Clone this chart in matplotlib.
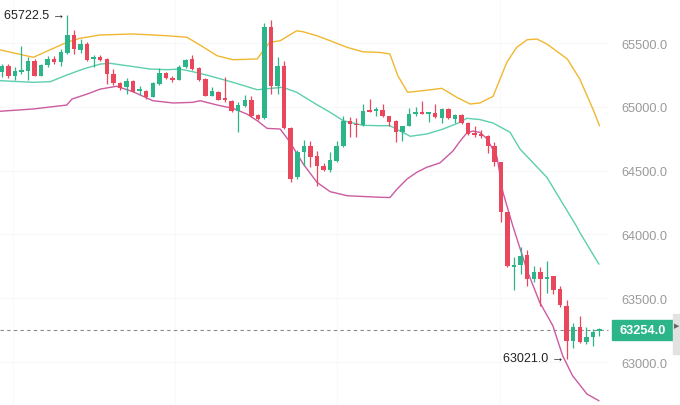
import numpy as np
import matplotlib
matplotlib.use("Agg")
import matplotlib.pyplot as plt
from matplotlib.patches import Rectangle

plt.rcParams['font.family'] = ['Liberation Sans', 'DejaVu Sans']

# candles (oldest -> newest)
opens = [65275, 65322, 65244, 65275, 65283, 65361, 65244, 65328, 65375, 65349,
         65419, 65563, 65445, 65492, 65375, 65388, 65375, 65257, 65187, 65153,
         65205, 65124, 65121, 65079, 65179, 65265, 65228, 65212, 65310, 65375,
         65302, 65218, 65087, 65118, 65067, 65048, 64969, 65009, 65056, 64936,
         64910, 65623, 65165, 65322, 64831, 64447, 64648, 64690, 64612, 64538,
         64505, 64578, 64690, 64886, 64865, 64855, 64977, 64969, 64977, 64926,
         64886, 64805, 64847, 64944, 64962, 64944, 64951, 64910, 64983, 64904,
         64936, 64873, 64795, 64787, 64774, 64695, 64565, 64173, 63747, 63760,
         63839, 63650, 63708, 63650, 63672, 63572, 63441, 63167, 63272, 63159,
         63194, 63245]
highs = [65335, 65335, 65312, 65479, 65390, 65375, 65335, 65396, 65396, 65453,
         65722.5, 65602, 65531, 65505, 65406, 65406, 65382, 65296, 65192, 65226,
         65210, 65163, 65131, 65197, 65302, 65275, 65244, 65328, 65375, 65406,
         65310, 65223, 65153, 65124, 65234, 65056, 65038, 65092, 65087, 64944,
         65657, 65683, 65390, 65361, 64844, 64665, 64740, 64734, 64656, 64560,
         64648, 64734, 64930, 64918, 64910, 65022, 65059, 64996, 65022, 64930,
         64899, 64852, 64988, 64996, 65048, 64957, 65022, 64988, 64988, 64944,
         64944, 64878, 64852, 64821, 64779, 64726, 64567, 64175, 63821, 63899,
         63880, 63750, 63742, 63789, 63676, 63593, 63488, 63306, 63358, 63272,
         63259, 63264]
lows = [65234, 65226, 65210, 65257, 65210, 65238, 65238, 65310, 65335, 65322,
        65415, 65414, 65422, 65361, 65312, 65361, 65179, 65171, 65134, 65100,
        65113, 65092, 65061, 65074, 65171, 65218, 65197, 65210, 65302, 65291,
        65205, 65082, 65082, 65051, 65040, 64962, 64805, 64998, 64918, 64899,
        64904, 65100, 65100, 64826, 64413, 64434, 64538, 64526, 64382, 64495,
        64487, 64567, 64682, 64761, 64761, 64847, 64962, 64928, 64918, 64852,
        64722, 64734, 64847, 64930, 64944, 64883, 64912, 64871, 64904, 64871,
        64865, 64779, 64761, 64753, 64638, 64534, 64097, 63747, 63567, 63690,
        63593, 63625, 63441, 63541, 63533, 63431, 63021, 63110, 63149, 63141,
        63123, 63201]
closes = [65322, 65244, 65283, 65291, 65361, 65244, 65328, 65375, 65349, 65427,
          65563, 65453, 65492, 65367, 65388, 65369, 65257, 65184, 65145, 65205,
          65118, 65134, 65079, 65187, 65265, 65223, 65212, 65310, 65367, 65296,
          65212, 65087, 65126, 65056, 65051, 64969, 65014, 65056, 64930, 64904,
          65623, 65165, 65322, 64831, 64434, 64648, 64692, 64609, 64534, 64507,
          64585, 64690, 64891, 64865, 64857, 64969, 64963, 64983, 64926, 64883,
          64805, 64847, 64944, 64962, 64944, 64954, 64918, 64983, 64910, 64936,
          64873, 64787, 64779, 64774, 64690, 64565, 64173, 63750, 63760, 63833,
          63650, 63708, 63650, 63669, 63567, 63447, 63167, 63272, 63159, 63194,
          63233, 63254]

# Bollinger bands (candle index, price)
upper_idx = [-0.3, 4.8, 9.9, 11.9, 15, 20, 25.2, 28.2, 30.2, 32.8, 35.2, 38.9, 39.8,
             40.8, 42.4, 44.9, 45.9, 48, 50, 52.6, 55, 57.6, 59.1, 60.3, 61.8, 64.1,
             67, 69.3, 71.3, 72.8, 74.8, 76.9, 78.4, 80, 81.5, 83, 86.1, 88, 90, 91]
upper = [65447, 65388, 65505, 65537, 65563, 65571, 65557, 65545, 65484, 65400, 65369,
         65375, 65440, 65505, 65518, 65596, 65588, 65557, 65518, 65466, 65431, 65426,
         65414, 65244, 65114, 65126, 65145, 65074, 65022, 65030, 65082, 65349, 65466,
         65526, 65531, 65492, 65375, 65218, 64983, 64852]
mid_idx = [-0.3, 4.8, 7.4, 9.9, 12.4, 15, 16.5, 19.1, 22.6, 25.2, 27.1, 29.1, 31.2,
           35.2, 38.9, 39.8, 42.8, 44.9, 48, 50, 52, 55, 57.6, 59.1, 62.2, 64.7, 67.2,
           69.8, 70.8, 72.8, 74.8, 75.9, 77.4, 78.9, 83, 85, 87.6, 88, 90.9]
mid = [65205, 65192, 65197, 65249, 65296, 65335, 65341, 65322, 65296, 65291, 65296,
       65275, 65249, 65192, 65134, 65139, 65153, 65114, 65016, 64957, 64891, 64855,
       64852, 64852, 64769, 64787, 64826, 64879, 64910, 64900, 64873, 64842, 64800,
       64669, 64447, 64277, 64056, 64016, 63768]
lower_idx = [-0.3, 4.8, 9.9, 10.7, 13, 15, 17.5, 20, 23, 26.1, 29.1, 30.2, 32.8, 35.2,
             37.3, 38.9, 40.4, 42.4, 43.9, 45.9, 48, 50, 52.6, 57.6, 59.1, 60.2, 61.7,
             63.2, 64.7, 66.7, 68.7, 69.8, 70.8, 71.7, 72.8, 73.9, 75.4, 76.3, 77.8,
             80, 81.9, 83.9, 85.4, 86.9, 89.1, 90.9]
lower = [64965, 64983, 65014, 65061, 65100, 65139, 65161, 65118, 65048, 65030, 65035,
         65048, 65014, 64988, 64944, 64891, 64831, 64826, 64722, 64552, 64408, 64335,
         64303, 64291, 64289, 64356, 64434, 64487, 64526, 64560, 64654, 64732, 64795,
         64810, 64800, 64748, 64607, 64332, 64068, 63716, 63468, 63285, 63049, 62893,
         62749, 62697]

price_ticks = [63000, 63500, 64000, 64500, 65000, 65500]
last_price = 63254.0

UP, DOWN = "#2cb588", "#e8475c"

fig = plt.figure(figsize=(6.8, 4.06), dpi=100)
ax = fig.add_axes([0, 0, 608 / 680, 1])
ax.set_xlim(-0.26, 92.3)
ax.set_ylim(62663, 65845)
for s in ax.spines.values():
    s.set_visible(False)

# faint grid (barely visible in the original)
for p in price_ticks:
    ax.axhline(p, color="#f8f8f8", lw=0.8, zorder=0)
for gx in [1.7, 26.4, 51.1, 75.8]:
    ax.axvline(gx, color="#f9f9f9", lw=0.8, zorder=0)

o = np.array(opens, float)
h = np.array(highs, float)
l = np.array(lows, float)
c = np.array(closes, float)
x = np.arange(len(o))
col = np.where(c >= o, UP, DOWN)

ax.vlines(x, l, h, colors=col, lw=0.9, zorder=3)
body = np.maximum(np.abs(c - o), 12)
ax.bar(x, body, bottom=np.minimum(o, c), width=0.68, color=col, zorder=4, linewidth=0)

ax.plot(upper_idx, upper, color="#f0b731", lw=1.0, zorder=2)
ax.plot(mid_idx, mid, color="#5ccfae", lw=1.0, zorder=2)
ax.plot(lower_idx, lower, color="#cc5aa0", lw=1.0, zorder=2)

# last price line
ax.axhline(last_price, color="#8a8a8a", lw=0.8, ls=(0, (3, 3)), zorder=1, clip_on=False)

# high / low markers
ih, il = int(np.argmax(h)), int(np.argmin(l))
ax.annotate(f"{h[ih]:.1f} →", xy=(ih, h[ih]), xytext=(-1.5, 0), textcoords="offset points",
            ha="right", va="center", fontsize=9, color="#222222", zorder=5)
ax.annotate(f"{l[il]:.1f} →", xy=(il, l[il]), xytext=(-1.5, 1), textcoords="offset points",
            ha="right", va="center", fontsize=9, color="#222222", zorder=5)

ax.set_xticks([])
ax.set_yticks(price_ticks)
ax.set_yticklabels([f"{p:.1f}" for p in price_ticks])
ax.yaxis.tick_right()
ax.tick_params(axis="y", length=0, pad=9.5, labelsize=9.2, labelcolor="#9a9a9a")

# last price box and right tab
fy = ax.transData.transform((0, last_price))[1] / fig.bbox.height
fig.patches.append(Rectangle((612 / 680, fy - 10 / 406), 61 / 680, 20 / 406,
                             transform=fig.transFigure, color=UP, zorder=5))
fig.text(642.5 / 680, fy, f"{last_price:.1f}", color="white", fontsize=9.2,
         fontweight="bold", ha="center", va="center", zorder=6)
fig.patches.append(Rectangle((673 / 680, fy - 24 / 406), 7 / 680, 40 / 406,
                             transform=fig.transFigure, color="#e2e2e2", zorder=5))
fig.text(677 / 680, fy + 4 / 406, "▶", color="#666666", fontsize=5,
         ha="center", va="center", zorder=6, family=["DejaVu Sans"])

fig.savefig("out.png", dpi=100, facecolor="white")
